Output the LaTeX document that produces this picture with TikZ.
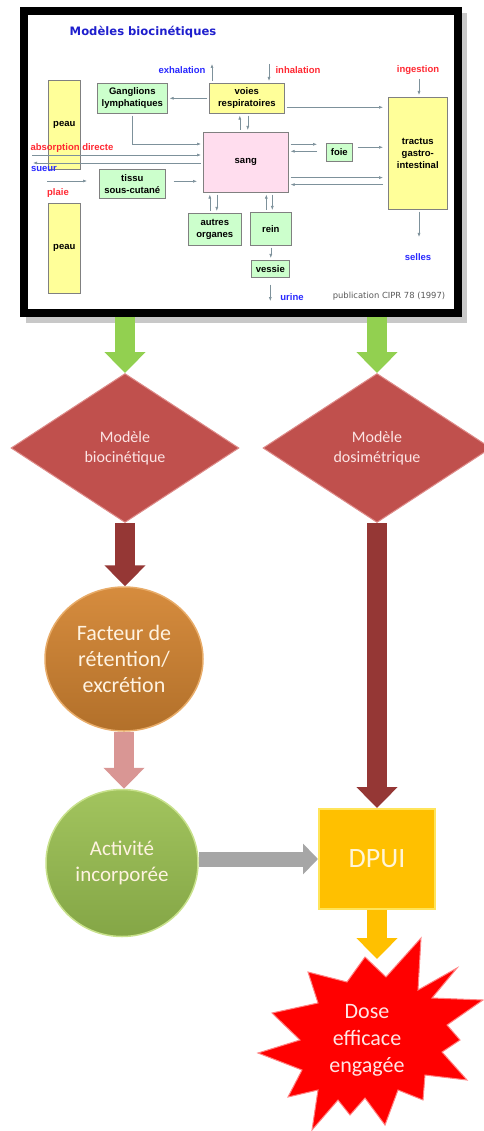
\documentclass[tikz,border=0pt]{standalone}
\usepackage{fontspec}
\setmainfont{Liberation Sans}
\newfontfamily\calibri{Carlito}
\newfontfamily\dejavu{DejaVu Sans}
\usetikzlibrary{shapes.geometric,arrows.meta}

\definecolor{boxyellow}{RGB}{255,255,153}
\definecolor{boxgreen}{RGB}{204,255,204}
\definecolor{boxpink}{RGB}{255,221,238}
\definecolor{boxline}{RGB}{128,128,128}
\definecolor{flowline}{RGB}{125,145,155}
\definecolor{labred}{RGB}{255,40,50}
\definecolor{labblue}{RGB}{40,40,255}
\definecolor{titleblue}{RGB}{30,30,205}
\definecolor{pubgray}{RGB}{90,90,90}
\definecolor{shadowgray}{RGB}{200,200,200}
\definecolor{arrgreen}{RGB}{146,208,80}
\definecolor{modelred}{RGB}{192,80,77}
\definecolor{modeledge}{RGB}{222,140,138}
\definecolor{modeltext}{RGB}{252,228,228}
\definecolor{arrdark}{RGB}{149,55,53}
\definecolor{arrpink}{RGB}{217,150,148}
\definecolor{arrgray}{RGB}{166,166,166}
\definecolor{facteurtop}{RGB}{214,140,62}
\definecolor{facteurbot}{RGB}{178,112,42}
\definecolor{facteuredge}{RGB}{232,172,105}
\definecolor{activtop}{RGB}{162,196,94}
\definecolor{activbot}{RGB}{132,166,70}
\definecolor{activedge}{RGB}{200,225,140}
\definecolor{disctext}{RGB}{255,243,225}
\definecolor{dpuigold}{RGB}{255,192,0}
\definecolor{dpuiedge}{RGB}{255,228,90}
\definecolor{dpuitext}{RGB}{255,245,215}
\definecolor{dosered}{RGB}{255,0,0}
\definecolor{doseedge}{RGB}{255,130,130}
\definecolor{dosetext}{RGB}{255,228,228}

\tikzset{
  box/.style={draw=boxline, line width=0.6pt, inner sep=0pt, align=center,
    font=\bfseries\fontsize{9.5}{12}\selectfont, anchor=north west},
  ybox/.style={box, fill=boxyellow},
  gbox/.style={box, fill=boxgreen},
  lbl/.style={font=\bfseries\fontsize{9.5}{12}\selectfont, inner sep=0pt},
  flow/.style={draw=flowline, line width=0.6pt, -{Latex[length=4pt,width=3pt]},
    shorten >=2pt, shorten <=2pt},
  bigarrow/.style={line width=20pt, -{Triangle[width=40pt,length=21pt]}},
  model/.style={diamond, aspect=1.53, minimum width=228pt, minimum height=149pt,
    inner sep=0pt, fill=modelred, draw=modeledge, line width=1pt, text=modeltext,
    align=center, font=\calibri\fontsize{16}{19.5}\selectfont},
  disc/.style={ellipse, inner sep=0pt, align=center, line width=1.5pt,
    text=disctext, font=\calibri\fontsize{22}{26}\selectfont},
}

\begin{document}
\begin{tikzpicture}[x=1pt,y=-1pt]
\useasboundingbox (0,0) rectangle (483,1131);

\fill[shadowgray] (26,13) rectangle (467,323);
\node[draw, line width=8pt, fill=white, inner sep=0pt, anchor=north west,
  minimum width=434pt, minimum height=302pt] (panel) at (20,7) {};
\node[font=\dejavu\bfseries\fontsize{11.6}{14}\selectfont, text=titleblue] (title) at (143,32) {Modèles biocinétiques};

\node[ybox, minimum width=32pt, minimum height=89pt] (peauA) at (48,80) {peau};
\node[gbox, minimum width=70pt, minimum height=30pt] (gang) at (97,83) {Ganglions\\lymphatiques};
\node[ybox, minimum width=75pt, minimum height=30pt] (voies) at (209,83) {voies\\respiratoires};
\node[box, fill=boxpink, minimum width=85pt, minimum height=60pt] (sang) at (203,132) {sang};
\node[gbox, minimum width=26pt, minimum height=18pt] (foie) at (326,143) {foie};
\node[ybox, minimum width=59pt, minimum height=112pt] (tractus) at (388,97) {tractus\\gastro-\\intestinal};
\node[gbox, minimum width=66pt, minimum height=29pt] (tissu) at (99,169) {tissu\\sous-cutané};
\node[ybox, minimum width=32pt, minimum height=90pt] (peauB) at (48,203) {peau};
\node[gbox, minimum width=53pt, minimum height=32pt] (autres) at (188,213) {autres\\organes};
\node[gbox, minimum width=41pt, minimum height=33pt] (rein) at (250,212) {rein};
\node[gbox, minimum width=38pt, minimum height=17pt] (vessie) at (251,260) {vessie};

\coordinate (exhout) at (212,62);
\coordinate (inhin) at (269,62);
\coordinate (ingin) at (419,77);
\coordinate (absin) at (30,155);
\coordinate (sueurout) at (31,163);
\coordinate (plaiein) at (45,181);
\coordinate (urineout) at (269,303);
\coordinate (sellesout) at (419,239);
\coordinate (sv1) at ([xshift=-6pt]sang.north);
\coordinate (sv2) at ([xshift=2pt]sang.north);
\coordinate (vt) at ([yshift=-9pt]voies.east);
\coordinate (ts) at ([yshift=2.5pt]tissu.east);
\coordinate (ao1) at ([xshift=-5pt]autres.north);
\coordinate (ao2) at ([xshift=2pt]autres.north);
\coordinate (rs1) at ([xshift=-4.5pt]rein.north);
\coordinate (rs2) at ([xshift=1.5pt]rein.north);
\coordinate (sf1) at ([yshift=8pt]foie.west);
\coordinate (sf2) at ([yshift=1pt]foie.west);
\coordinate (ft) at ([yshift=5pt]foie.east);
\coordinate (st1) at ([yshift=15pt]sang.south east);
\coordinate (st2) at ([yshift=8pt]sang.south east);

\draw[flow] (exhout |- voies.north) -- (exhout);
\draw[flow] (inhin) -- (inhin |- voies.north);
\draw[flow] (ingin) -- (ingin |- tractus.north);
\draw[flow] (voies.west) -- (gang.east);
\draw[flow, shorten >=5pt] (vt) -- (vt -| tractus.west);
\draw[flow] (sv1) -- (sv1 |- voies.south);
\draw[flow] (sv2 |- voies.south) -- (sv2);
\draw[flow] (gang.south) |- ([yshift=-12pt]sang.north west);
\draw[flow] (absin) -- (absin -| sang.west);
\draw[flow] (sueurout -| sang.west) -- (sueurout);
\draw[flow, shorten >=12pt] (plaiein) -- (plaiein -| tissu.west);
\draw[flow, shorten <=8pt, shorten >=6pt] (ts) -- (ts -| sang.west);
\draw[flow] (ao1) -- (ao1 |- sang.south);
\draw[flow] (ao2 |- sang.south) -- (ao2);
\draw[flow] (rs1) -- (rs1 |- sang.south);
\draw[flow] (rs2 |- sang.south) -- (rs2);
\draw[flow] (rein.south) -- (rein.south |- vessie.north);
\draw[flow, shorten <=7pt] (vessie.south) -- (vessie.south |- urineout);
\draw[flow, shorten >=9pt] (sf1 -| sang.east) -- (sf1);
\draw[flow, shorten <=9pt] (sf2) -- (sf2 -| sang.east);
\draw[flow, shorten <=5pt, shorten >=5pt] (ft) -- (ft -| tractus.west);
\draw[flow, shorten >=5pt] (st1) -- (st1 -| tractus.west);
\draw[flow, shorten <=5pt] (st2 -| tractus.west) -- (st2);
\draw[flow] (sellesout |- tractus.south) -- (sellesout);

\node[lbl, text=labblue] (exhal) at (182,70) {exhalation};
\node[lbl, text=labred] (inhal) at (298,70) {inhalation};
\node[lbl, text=labred] (ingest) at (418,70) {ingestion};
\node[lbl, text=labred] (absorp) at (72,148) {absorption directe};
\node[lbl, text=labblue] (sueur) at (44,169) {sueur};
\node[lbl, text=labred] (plaie) at (58,193) {plaie};
\node[lbl, text=labblue] (selles) at (418,257) {selles};
\node[lbl, text=labblue] (urine) at (292,297) {urine};
\node[font=\dejavu\fontsize{8.4}{10}\selectfont, text=pubgray, inner sep=0pt] (pub) at (389,296) {publication CIPR 78 (1997)};

\node[model] (bio) at (125,448) {Modèle\\biocinétique};
\node[model] (dosi) at (377,448) {Modèle\\dosimétrique};
\node[disc, top color=facteurtop, bottom color=facteurbot, draw=facteuredge,
  minimum width=158pt, minimum height=144pt] (facteur) at (124,659) {Facteur de\\rétention/\\excrétion};
\node[disc, top color=activtop, bottom color=activbot, draw=activedge, minimum width=152pt, minimum height=147pt,
  font=\calibri\fontsize{21}{25.5}\selectfont] (activite) at (122,863) {Activité\\incorporée};
\node[draw=dpuiedge, line width=2pt, fill=dpuigold, minimum width=116pt, minimum height=100pt,
  text=dpuitext, font=\calibri\fontsize{28}{32}\selectfont] (dpui) at (377,859) {DPUI};

\filldraw[fill=dosered, draw=doseedge, line width=1pt, line join=miter]
  (365,957) -- (386,977) -- (421,938) -- (418,990) -- (457,968) -- (432,998)
  -- (483,1000) -- (447,1025) -- (460,1040) -- (442,1052) -- (467,1080)
  -- (425,1075) -- (423,1100) -- (398,1090) -- (385,1125) -- (365,1098)
  -- (350,1115) -- (338,1100) -- (312,1130) -- (318,1090) -- (288,1097)
  -- (302,1070) -- (258,1053) -- (300,1040) -- (272,1013) -- (318,1003)
  -- (308,972) -- (347,982) -- cycle;
\node[text=dosetext, align=center, font=\calibri\fontsize{22}{27}\selectfont] (dose) at (367,1040) {Dose\\efficace\\engagée};
\coordinate (dosetip) at (377,959);

\draw[bigarrow, draw=arrgreen] (panel.south -| bio.north) -- (bio.north);
\draw[bigarrow, draw=arrgreen] (panel.south -| dosi.north) -- (dosi.north);
\draw[bigarrow, draw=arrdark] (bio.south) -- (bio.south |- facteur.north);
\draw[bigarrow, draw=arrdark] (dosi.south) -- (dosi.south |- dpui.north);
\draw[bigarrow, draw=arrpink] (facteur.south) -- (facteur.south |- activite.north);
\draw[draw=arrgray, line width=15pt, -{Triangle[width=30pt,length=15pt]}] (activite.east |- dpui.west) -- (dpui.west);
\draw[bigarrow, draw=dpuigold] (dpui.south) -- (dosetip);
\end{tikzpicture}
\end{document}
